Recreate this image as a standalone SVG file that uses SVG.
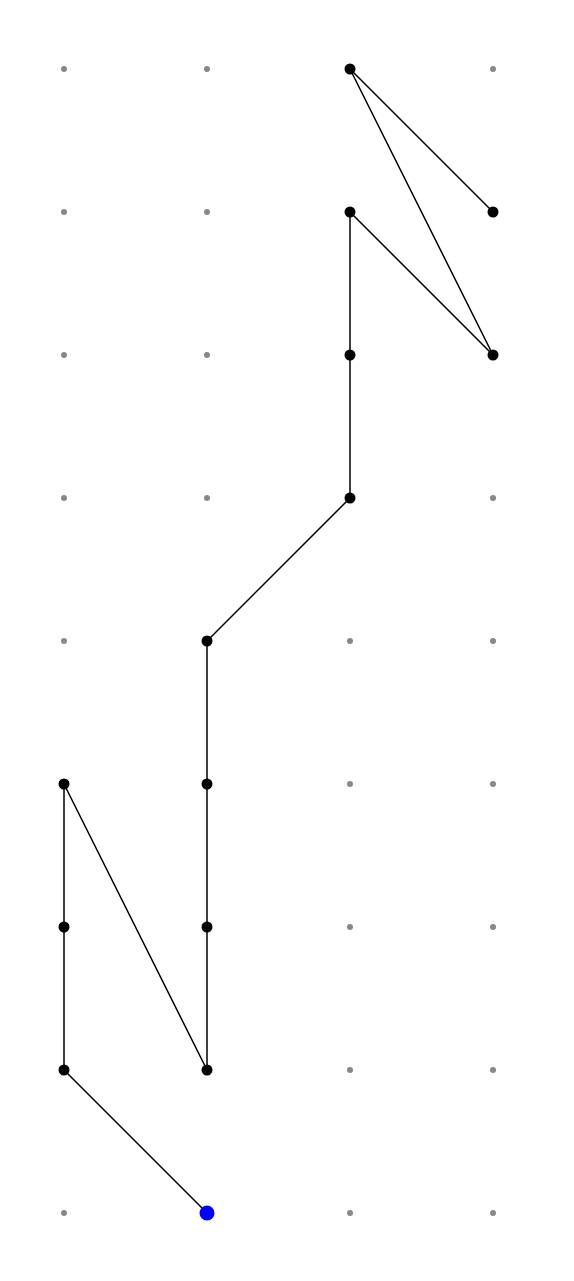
<svg xmlns="http://www.w3.org/2000/svg" width="574" height="1281" viewBox="0 0 574 1281">
<style>
.g{fill:#888}
.n{fill:#000}
.b{fill:#00f}
.e{fill:none;stroke:#000;stroke-width:1.5}
</style>
<rect width="574" height="1281" fill="#fff"/>
<g id="grid">
<circle class="g" cx="64" cy="69" r="3"/><circle class="g" cx="207" cy="69" r="3"/><circle class="g" cx="493" cy="69" r="3"/>
<circle class="g" cx="64" cy="212" r="3"/><circle class="g" cx="207" cy="212" r="3"/>
<circle class="g" cx="64" cy="355" r="3"/><circle class="g" cx="207" cy="355" r="3"/>
<circle class="g" cx="64" cy="498" r="3"/><circle class="g" cx="207" cy="498" r="3"/><circle class="g" cx="493" cy="498" r="3"/>
<circle class="g" cx="64" cy="641" r="3"/><circle class="g" cx="350" cy="641" r="3"/><circle class="g" cx="493" cy="641" r="3"/>
<circle class="g" cx="350" cy="784" r="3"/><circle class="g" cx="493" cy="784" r="3"/>
<circle class="g" cx="350" cy="927" r="3"/><circle class="g" cx="493" cy="927" r="3"/>
<circle class="g" cx="350" cy="1070" r="3"/><circle class="g" cx="493" cy="1070" r="3"/>
<circle class="g" cx="64" cy="1213" r="3"/><circle class="g" cx="350" cy="1213" r="3"/><circle class="g" cx="493" cy="1213" r="3"/>
</g>
<g id="connectors">
<polyline class="e" points="207,1213 64,1070 64,927 64,784 207,1070 207,927 207,784 207,641 350,498 350,355 350,212 493,355 350,69 493,212"/>
</g>
<g id="n1"><circle class="n" cx="64" cy="1070" r="5.5"/></g>
<g id="n2"><circle class="n" cx="64" cy="927" r="5.5"/></g>
<g id="n3"><circle class="n" cx="64" cy="784" r="5.5"/></g>
<g id="n4"><circle class="n" cx="207" cy="1070" r="5.5"/></g>
<g id="n5"><circle class="n" cx="207" cy="927" r="5.5"/></g>
<g id="n6"><circle class="n" cx="207" cy="784" r="5.5"/></g>
<g id="n7"><circle class="n" cx="207" cy="641" r="5.5"/></g>
<g id="n8"><circle class="n" cx="350" cy="498" r="5.5"/></g>
<g id="n9"><circle class="n" cx="350" cy="355" r="5.5"/></g>
<g id="n10"><circle class="n" cx="350" cy="212" r="5.5"/></g>
<g id="n11"><circle class="n" cx="493" cy="355" r="5.5"/></g>
<g id="n12"><circle class="n" cx="350" cy="69" r="5.5"/></g>
<g id="n13"><circle class="n" cx="493" cy="212" r="5.5"/></g>
<g id="start"><circle class="b" cx="207" cy="1213" r="7.5"/></g>
</svg>
